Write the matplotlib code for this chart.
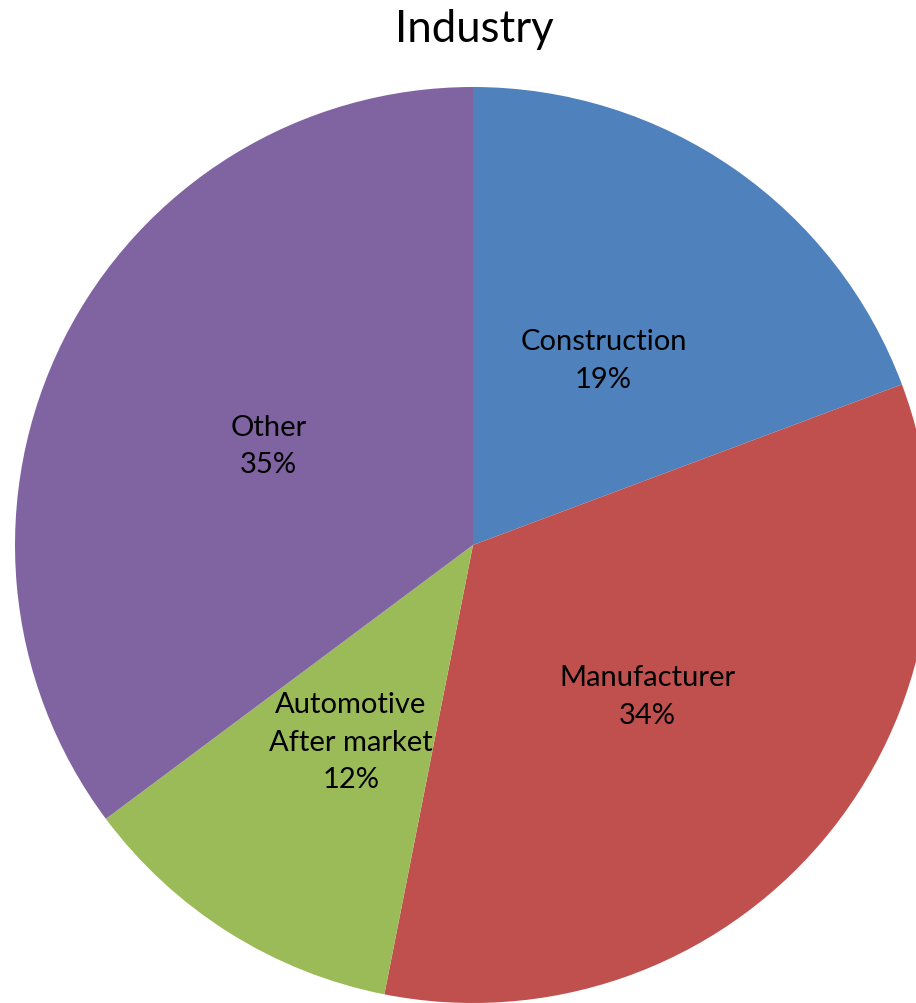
import numpy as np
import matplotlib
matplotlib.use("Agg")
import matplotlib.pyplot as plt

categories = ["Construction", "Manufacturer", "Automotive\nAfter market", "Other"]
values = [19.3, 33.8, 11.7, 35.2]
colors = ["#4F81BD", "#C0504D", "#9BBB59", "#8064A2"]
title = "Industry"

plt.rcParams['font.family'] = ['Lato', 'DejaVu Sans']

W, H = 916, 1004
fig = plt.figure(figsize=(W / 100, H / 100), dpi=100)
ax = fig.add_axes([0, 0, 1, 1])

cx, cy, r = 473, H - 546, 458
wedges, _ = ax.pie(values, colors=colors, startangle=90, counterclock=False,
                   radius=r, center=(cx, cy), frame=True)
ax.set_xlim(0, W)
ax.set_ylim(0, H)
ax.set_aspect('equal')
ax.axis('off')

total = sum(values)
for w, name, v in zip(wedges, categories, values):
    mid = np.deg2rad((w.theta1 + w.theta2) / 2)
    x = cx + 0.5 * r * np.cos(mid)
    y = cy + 0.5 * r * np.sin(mid) - 3
    ax.text(x, y, f"{name}\n{round(100 * v / total)}%", ha='center', va='center',
            fontsize=21, linespacing=1.55, color='black')

fig.text(474 / W, 1 - 29 / H, title, ha='center', va='center', fontsize=31.5)

fig.savefig("out.png", dpi=100)
